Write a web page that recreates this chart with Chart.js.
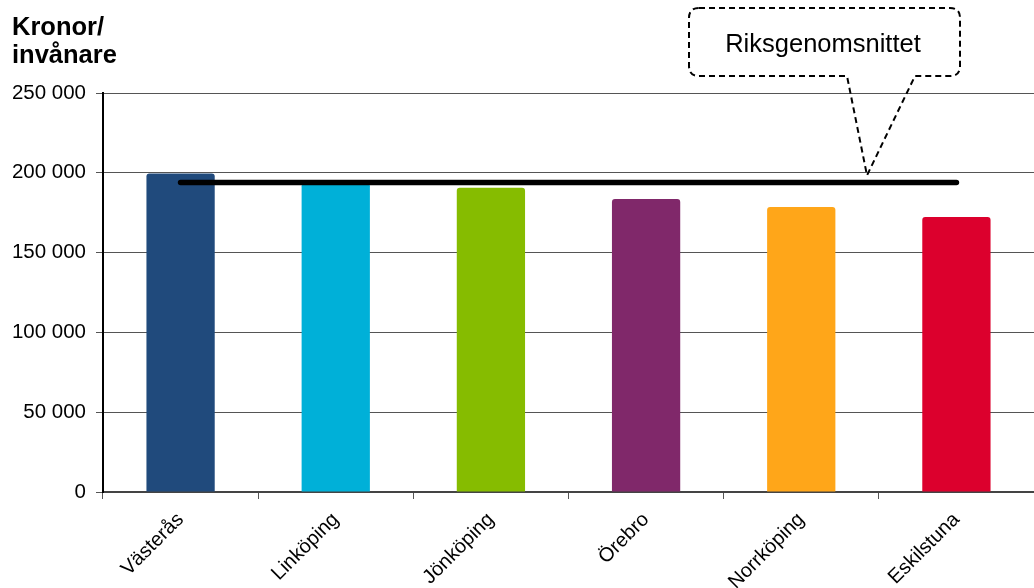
<!DOCTYPE html>
<html>
<head>
<meta charset="utf-8">
<script src="https://cdn.jsdelivr.net/npm/chart.js@4/dist/chart.umd.min.js"></script>
<style>
html,body{margin:0;padding:0;background:#fff;}
#wrap{width:1034px;height:588px;position:relative;}
</style>
</head>
<body>
<div id="wrap"><canvas id="c" width="1034" height="588"></canvas></div>
<script>
const categories = ['Västerås', 'Linköping', 'Jönköping', 'Örebro', 'Norrköping', 'Eskilstuna'];
const values = [199500, 193500, 190700, 183600, 178600, 172300];
const barColors = ['#204A7C', '#00B0D8', '#86BC00', '#80286A', '#FFA619', '#DC002D'];
const riksgenomsnitt = 194000;
const averageLine = categories.map(() => riksgenomsnitt);
const yTicks = [0, 50000, 100000, 150000, 200000, 250000];
const axisTitle = ['Kronor/', 'invånare'];
const calloutText = 'Riksgenomsnittet';

const FONT = '"Liberation Sans", Arial, sans-serif';

function fmt(v){ return String(v).replace(/\B(?=(\d{3})+(?!\d))/g, ' '); }

const overlay = {
  id: 'overlay',
  afterDraw(chart){
    const ctx = chart.ctx;
    // axis title
    ctx.save();
    ctx.fillStyle = '#000';
    ctx.font = 'bold 25.5px ' + FONT;
    ctx.textBaseline = 'alphabetic';
    ctx.textAlign = 'left';
    ctx.fillText(axisTitle[0], 12, 35);
    ctx.fillText(axisTitle[1], 12, 63);
    ctx.restore();

    // callout
    const y = chart.scales.y;
    const tipY = y.getPixelForValue(riksgenomsnitt) - 7;
    const tipX = 867;
    const L = 689, R = 960, T = 8, B = 76, r = 10;
    const pl = 847, pr = 915;
    ctx.save();
    ctx.setLineDash([6, 4]);
    ctx.lineWidth = 2;
    ctx.strokeStyle = '#000';
    ctx.beginPath();
    ctx.moveTo(L + r, T);
    ctx.lineTo(R - r, T);
    ctx.quadraticCurveTo(R, T, R, T + r);
    ctx.lineTo(R, B - r);
    ctx.quadraticCurveTo(R, B, R - r, B);
    ctx.lineTo(pr, B);
    ctx.lineTo(tipX, tipY);
    ctx.lineTo(pl, B);
    ctx.lineTo(L + r, B);
    ctx.quadraticCurveTo(L, B, L, B - r);
    ctx.lineTo(L, T + r);
    ctx.quadraticCurveTo(L, T, L + r, T);
    ctx.closePath();
    ctx.stroke();
    ctx.setLineDash([]);
    ctx.fillStyle = '#000';
    ctx.font = '25.5px ' + FONT;
    ctx.textAlign = 'center';
    ctx.textBaseline = 'middle';
    ctx.fillText(calloutText, 823, 45);
    ctx.restore();
  }
};

new Chart(document.getElementById('c'), {
  data: {
    labels: categories,
    datasets: [
      {
        type: 'line',
        data: averageLine,
        borderColor: '#000',
        borderWidth: 5.5,
        borderCapStyle: 'round',
        pointRadius: 0,
        fill: false,
        order: 0
      },
      {
        type: 'bar',
        data: values,
        backgroundColor: barColors,
        borderRadius: {topLeft: 3, topRight: 3},
        borderSkipped: 'bottom',
        barPercentage: 0.44,
        categoryPercentage: 1.0,
        order: 1
      }
    ]
  },
  options: {
    responsive: false,
    animation: false,
    devicePixelRatio: 1,
    layout: { padding: { top: 93, left: 0, right: 0, bottom: 0 } },
    plugins: { legend: { display: false }, tooltip: { enabled: false }, title: { display: false } },
    scales: {
      x: {
        offset: true,
        grid: { offset: true, drawOnChartArea: false, drawTicks: true, tickLength: 7, color: '#555', lineWidth: 1 },
        border: { color: '#444', width: 2 },
        ticks: {
          color: '#000',
          font: { family: FONT, size: 20 },
          maxRotation: 45,
          minRotation: 45,
          padding: 9,
          autoSkip: false
        },
        afterFit(scale){ scale.height = 96; }
      },
      y: {
        min: 0,
        max: 250000,
        afterBuildTicks(scale){ scale.ticks = yTicks.map(v => ({value: v})); },
        grid: { color: '#555', lineWidth: 1, tickLength: 7 },
        border: { color: '#000', width: 2 },
        ticks: {
          color: '#000',
          font: { family: FONT, size: 20.5 },
          padding: 10,
          callback: v => fmt(v)
        },
        afterFit(scale){ scale.width = 103; }
      }
    }
  },
  plugins: [overlay]
});
</script>
</body>
</html>
